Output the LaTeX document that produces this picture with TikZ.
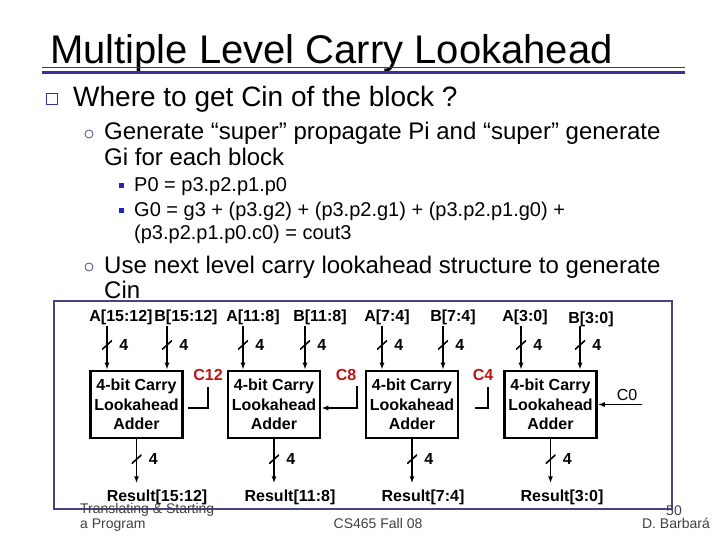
\documentclass[tikz,border=0pt]{standalone}
\usepackage{fontspec}
\usetikzlibrary{arrows.meta}
\setmainfont{Liberation Sans}
\definecolor{navy}{RGB}{51,51,153}
\definecolor{framecol}{RGB}{72,68,125}
\definecolor{carryred}{RGB}{190,20,20}
\begin{document}
\begin{tikzpicture}[x=1pt, y=-1pt, >={Latex[length=7pt,width=5pt]},
  adder/.style={draw, line width=2.6pt, minimum width=92pt, minimum height=67pt,
                align=center, inner sep=0pt,
                font=\bfseries\fontsize{16}{19.5}\selectfont},
  sig/.style={inner sep=0pt, font=\bfseries\fontsize{16}{16}\selectfont},
  carry/.style={sig, text=carryred},
  wire/.style={line width=1.8pt},
  busmark/.style={minimum width=10pt, minimum height=9pt, inner sep=0pt,
                  path picture={\draw[line width=1.6pt]
                    (path picture bounding box.south west) --
                    (path picture bounding box.north east);},
                  label={[sig, label distance=7pt]right:#1}},
  bullettext/.style={anchor=base west, inner sep=0pt,
                     font=\fontsize{#1}{#1}\selectfont},
  foot/.style={inner sep=0pt, text=black!75, font=\fontsize{14}{14}\selectfont}
]
  \useasboundingbox (0,0) rectangle (720,540);

  % title and rules
  \node[bullettext=40] (title) at (50,64) {Multiple Level Carry Lookahead};
  \draw[navy, line width=0.8pt] (42,67.5) -- (685,67.5);
  \draw[navy, line width=3.5pt] (42,72.5) -- (685,72.5);

  % bullets
  \node[draw=navy, line width=1.2pt, minimum size=11pt, inner sep=0pt] (sq1) at (52,99) {};
  \node[bullettext=28] (where) at (73,107) {Where to get Cin of the block ?};
  \node[circle, draw=navy!70!gray, line width=0.8pt, minimum size=8pt, inner sep=0pt] (ci1) at (89,134) {};
  \node[bullettext=24] (gen1) at (104,140) {Generate “super” propagate Pi and “super” generate};
  \node[bullettext=24] (gen2) at (104,166) {Gi for each block};
  \node[fill=navy!70!blue, minimum size=5pt, inner sep=0pt] (sq2) at (121,186) {};
  \node[bullettext=20] (pzero) at (134,192) {P0 = p3.p2.p1.p0};
  \node[fill=navy!70!blue, minimum size=5pt, inner sep=0pt] (sq3) at (121,211) {};
  \node[bullettext=20] (gzero1) at (134,217) {G0 = g3 + (p3.g2) + (p3.p2.g1) + (p3.p2.p1.g0) +};
  \node[bullettext=20] (gzero2) at (134,240) {(p3.p2.p1.p0.c0) = cout3};
  \node[circle, draw=navy!70!gray, line width=0.8pt, minimum size=8pt, inner sep=0pt] (ci2) at (89,267) {};
  \node[bullettext=24] (use1) at (104,273) {Use next level carry lookahead structure to generate};
  \node[bullettext=24] (use2) at (104,298) {Cin};

  % diagram frame
  \draw[framecol, line width=1.2pt] (54,301) rectangle (672,509);

  % adders
  \node[adder] (add1) at (136.5,404.5) {4-bit Carry\\Lookahead\\Adder};
  \node[adder] (add2) at (274,404.5)   {4-bit Carry\\Lookahead\\Adder};
  \node[adder] (add3) at (412,404.5)   {4-bit Carry\\Lookahead\\Adder};
  \node[adder] (add4) at (550.5,404.5) {4-bit Carry\\Lookahead\\Adder};

  % operand labels
  \node[sig] (la1) at (121,317) {A[15:12]};
  \node[sig] (lb1) at (186,317) {B[15:12]};
  \node[sig] (la2) at (253,317) {A[11:8]};
  \node[sig] (lb2) at (320,317) {B[11:8]};
  \node[sig] (la3) at (387,317) {A[7:4]};
  \node[sig] (lb3) at (453,317) {B[7:4]};
  \node[sig] (la4) at (525,317) {A[3:0]};
  \node[sig] (lb4) at (591,319) {B[3:0]};

  % operand buses
  \foreach \n/\x in {a1/107, b1/167, a2/243, b2/305, a3/382, b3/443, a4/521, b4/580}{
    \coordinate (in\n) at (\x,326);
    \node[busmark=4] (m\n) at (\x,345) {};
  }
  \draw[wire,->] (ina1) -- (ina1 |- add1.north);
  \draw[wire,->] (inb1) -- (inb1 |- add1.north);
  \draw[wire,->] (ina2) -- (ina2 |- add2.north);
  \draw[wire,->] (inb2) -- (inb2 |- add2.north);
  \draw[wire,->] (ina3) -- (ina3 |- add3.north);
  \draw[wire,->] (inb3) -- (inb3 |- add3.north);
  \draw[wire,->] (ina4) -- (ina4 |- add4.north);
  \draw[wire,->] (inb4) -- (inb4 |- add4.north);

  % carries
  \node[carry] (lc12) at (208,375) {C12};
  \coordinate (c12t) at (208,387);
  \coordinate (c12e) at (188,408);
  \draw[wire] (c12t) |- (c12e);
  \node[carry] (lc8) at (346,375) {C8};
  \coordinate (c8t) at (357,386);
  \draw[wire,->] (c8t) |- ([yshift=-3.5pt]add2.east);
  \node[carry] (lc4) at (483,375) {C4};
  \coordinate (c4t) at (488,387);
  \coordinate (c4e) at (475,408);
  \draw[wire] (c4t) |- (c4e);
  \node[inner sep=0pt, font=\fontsize{16}{16}\selectfont] (lc0) at (627,395) {C0};
  \coordinate (c0s) at (642,404.5);
  \draw[wire,->] (c0s) -- (add4.east);

  % results
  \foreach \i in {1,...,4}{
    \coordinate (out\i) at ([yshift=-44pt]add\i.south);
    \node[busmark=4] (mo\i) at ([yshift=-20pt]add\i.south) {};
    \draw[wire,->] (add\i.south) -- (out\i);
  }
  \node[sig] (r1) at (157,497) {Result[15:12]};
  \node[sig] (r2) at (290,497) {Result[11:8]};
  \node[sig] (r3) at (423,497) {Result[7:4]};
  \node[sig] (r4) at (562,497) {Result[3:0]};

  % footer
  \node[foot, anchor=base west] (ft1) at (80,513) {Translating \& Starting};
  \node[foot, anchor=base west] (ft2) at (80,528) {a Program};
  \node[foot, anchor=base] (ft3) at (378,528) {CS465 Fall 08};
  \node[foot, anchor=base east] (ft4) at (682,515) {50};
  \node[foot, anchor=base east] (ft5) at (710,528) {D. Barbará};
\end{tikzpicture}
\end{document}
